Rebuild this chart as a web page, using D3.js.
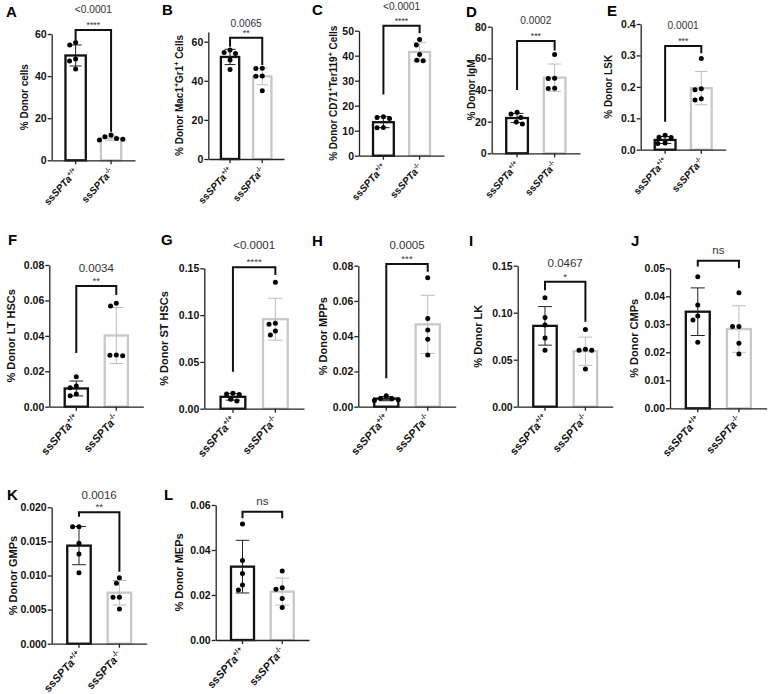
<!DOCTYPE html>
<html>
<head>
<meta charset="utf-8">
<script src="https://d3js.org/d3.v7.min.js"></script>
<style>
  body { margin: 0; background: #fff; }
  svg { font-family: "Liberation Sans", Arial, sans-serif; }
</style>
</head>
<body>
<svg width="768" height="694"></svg>
<script>
// ---- data ----
var genotypes = ["+/+", "-/-"];
var letters = ["A","B","C","D","E","F","G","H","I","J","K","L"];
var yLabels = ["% Donor cells", "% Donor Mac1^+Gr1^+ Cells", "% Donor CD71^+Ter119^+ Cells",
  "% Donor IgM", "% Donor LSK", "% Donor LT HSCs", "% Donor ST HSCs", "% Donor MPPs",
  "% Donor LK", "% Donor CMPs", "% Donor GMPs", "% Donor MEPs"];
var yMax = [60, 65, 50, 80, 0.4, 0.08, 0.15, 0.08, 0.15, 0.05, 0.02, 0.06];
var yTicks = [[0,20,40,60], [0,20,40,60], [0,10,20,30,40,50], [0,20,40,60,80],
  [0,0.1,0.2,0.3,0.4], [0,0.02,0.04,0.06,0.08], [0,0.05,0.10,0.15], [0,0.02,0.04,0.06,0.08],
  [0,0.05,0.10,0.15], [0,0.01,0.02,0.03,0.04,0.05], [0,0.005,0.010,0.015,0.020], [0,0.02,0.04,0.06]];
var tickFormats = ["d","d","d","d",".1f",".2f",".2f",".2f",".2f",".2f",".3f",".2f"];

var means = [[49.8,10.5],[52.2,42.3],[13.4,41.5],[22.3,47.8],[0.031,0.196],[0.0103,0.0402],
  [0.0127,0.0956],[0.0046,0.0467],[0.086,0.059],[0.0345,0.0283],[0.01438,0.00748],[0.0326,0.0215]];
var sds = [[5.0,1.0],[3.9,4.3],[2.2,3.7],[2.9,8.6],[0.011,0.053],[0.0042,0.0158],
  [0.0036,0.0224],[0.0012,0.0165],[0.0205,0.015],[0.0085,0.0083],[0.0028,0.0018],[0.0117,0.006]];
var points = [
  [[56.0,54.8,48.1,47.2,43.4],[11.2,9.6,10.4,12.0,10.0]],
  [[54.5,55.7,54.0,50.6,45.8],[46.4,46.3,42.5,42.3,34.9]],
  [[15.3,15.6,14.9,11.3,11.2],[46.5,44.3,40.5,38.2,38.0]],
  [[24.8,26.0,22.7,18.5,19.8],[62.5,47.4,47.2,41.1,41.0]],
  [[0.039,0.046,0.040,0.020,0.021],[0.290,0.191,0.194,0.158,0.162]],
  [[0.0169,0.0117,0.0107,0.0062,0.0072],[0.0568,0.0584,0.0292,0.0288,0.0290]],
  [[0.0157,0.0164,0.0153,0.0082,0.0100],[0.135,0.0901,0.0912,0.083,0.0787]],
  [[0.0040,0.0047,0.0062,0.0035,0.0045],[0.0732,0.0501,0.0435,0.0382,0.0293]],
  [[0.116,0.095,0.087,0.073,0.060],[0.082,0.061,0.060,0.060,0.040]],
  [[0.047,0.0369,0.0315,0.0236,0.033],[0.0413,0.0292,0.0292,0.0232,0.0194]],
  [[0.01716,0.01716,0.01472,0.01315,0.01042],[0.00968,0.00885,0.0068,0.0068,0.00509]],
  [[0.0516,0.0353,0.0296,0.0244,0.0222],[0.0307,0.0232,0.0226,0.0185,0.0144]]
];
var pTexts = ["<0.0001","0.0065","<0.0001","0.0002","0.0001","0.0034","<0.0001","0.0005","0.0467","ns","0.0016","ns"];
var stars = ["****","**","****","***","***","**","****","***","*","","**",""];
// bracket: [top, left leg end, right leg end] in data units
var brackets = [[61.9,57,13.6],[62.0,57.4,48.1],[52,24.5,49],[71,40,65],[0.33,0.089,0.307],
  [0.0682,0.0303,0.0631],[0.151,0.0395,0.1428],[0.081,0.0161,0.0766],[0.133,0.124,0.0904],
  [0.0527,0.0506,0.05],[0.01927,0.01862,0.01056],[0.057,0.0541,0.0541]];

// ---- layout (pixels) ----
var layout = [
  {ax:51.7,  y0:160.3, y1:34,    x1:135,   lx:6,   ly:17,  yl:28,  fs:10, pd:-16.7},
  {ax:208.3, y0:159,   y1:31.9,  x1:284,   lx:162, ly:15,  yl:183, fs:10, pd:-11},
  {ax:359,   y0:155.7, y1:30.7,  x1:444,   lx:312, ly:15,  yl:337, fs:10, pd:-15.7},
  {ax:491.7, y0:153.3, y1:26.7,  x1:580,   lx:466, ly:16.5,yl:475, fs:10, pd:-17},
  {ax:640.7, y0:149.7, y1:24,    x1:725.7, lx:607, ly:16,  yl:612, fs:10, pd:-16.7},
  {ax:49.3,  y0:406.7, y1:265,   x1:143.3, lx:8,   ly:245, yl:15,  fs:11, pd:-14.3},
  {ax:204.3, y0:408.7, y1:268.3, x1:304,   lx:161, ly:245, yl:168, fs:11, pd:-18.3},
  {ax:358.3, y0:406.7, y1:265.7, x1:455.7, lx:312, ly:246, yl:327, fs:11, pd:-15},
  {ax:517.7, y0:406.7, y1:265.7, x1:612.7, lx:469, ly:246, yl:482, fs:11, pd:-15},
  {ax:670,   y0:408.3, y1:268.3, x1:766.7, lx:631, ly:246, yl:638, fs:11, pd:-6.5},
  {ax:51.7,  y0:643.7, y1:507.3, x1:146.7, lx:7,   ly:500, yl:17,  fs:11, pd:-13.3},
  {ax:215.7, y0:640,   y1:505,   x1:309,   lx:164, ly:500, yl:183, fs:11, pd:-6.5}
];

var barStroke = ["#111", "#c8c8c8"];
var errStroke = ["#222", "#bdbdbd"];

var svg = d3.select("svg");

// simple beeswarm: offsets in px so dots don't overlap
function swarm(ys, d) {
  var idx = ys.map(function(y, i) { return i; }).sort(function(a, b) { return ys[a] - ys[b]; });
  var placed = [], out = new Array(ys.length);
  idx.forEach(function(i) {
    var y = ys[i], cands = [0];
    placed.forEach(function(p) {
      var dy = Math.abs(p.y - y);
      if (dy < d) { var w = Math.sqrt(d * d - dy * dy); cands.push(p.x - w, p.x + w); }
    });
    cands.sort(function(a, b) { return Math.abs(a) - Math.abs(b) || a - b; });
    var best = cands.find(function(c) {
      return placed.every(function(p) {
        var dy = p.y - y, dx = p.x - c;
        return dx * dx + dy * dy >= d * d - 0.01;
      });
    });
    placed.push({x: best, y: y});
    out[i] = best;
  });
  return out;
}

function addRich(sel, str, fs) {
  // "^x" marks a superscript character
  var parts = str.split(/(\^.)/);
  var shifted = false;
  parts.forEach(function(s) {
    if (!s) return;
    if (s[0] === "^") {
      sel.append("tspan").attr("font-size", fs * 0.7).attr("dy", -fs * 0.38).text(s[1]);
      shifted = true;
    } else {
      var t = sel.append("tspan").text(s);
      if (shifted) { t.attr("dy", fs * 0.38); shifted = false; }
    }
  });
}

letters.forEach(function(letter, i) {
  var L = layout[i];
  var g = svg.append("g");
  var y = d3.scaleLinear().domain([0, yMax[i]]).range([L.y0, L.y1]);
  var x = d3.scaleBand().domain([0, 1]).range([L.ax, L.x1]).paddingInner(0.37).paddingOuter(0.36);
  var bw = x.bandwidth();

  // panel letter
  g.append("text").attr("x", L.lx).attr("y", L.ly)
    .attr("font-size", 15).attr("font-weight", "bold").attr("fill", "#000").text(letter);

  // bars
  g.selectAll("rect.bar").data(means[i]).enter().append("rect")
    .attr("x", function(d, k) { return x(k) + 1; })
    .attr("width", bw - 2)
    .attr("y", function(d) { return y(d); })
    .attr("height", function(d) { return L.y0 - y(d); })
    .attr("fill", "#fff")
    .attr("stroke", function(d, k) { return barStroke[k]; })
    .attr("stroke-width", 2.3);

  // error bars (mean ± SD)
  means[i].forEach(function(m, k) {
    var cx = x(k) + bw / 2, cw = bw * 0.27;
    var eg = g.append("g").attr("stroke", errStroke[k]).attr("stroke-width", 1);
    eg.append("line").attr("x1", cx).attr("x2", cx).attr("y1", y(m - sds[i][k])).attr("y2", y(m + sds[i][k]));
    eg.append("line").attr("x1", cx - cw).attr("x2", cx + cw).attr("y1", y(m + sds[i][k])).attr("y2", y(m + sds[i][k]));
    eg.append("line").attr("x1", cx - cw).attr("x2", cx + cw).attr("y1", y(m - sds[i][k])).attr("y2", y(m - sds[i][k]));
  });

  // dots
  points[i].forEach(function(vals, k) {
    var cx = x(k) + bw / 2;
    var offs = swarm(vals.map(function(v) { return y(v); }), 6.4);
    g.selectAll(null).data(vals).enter().append("circle")
      .attr("cx", function(v, j) { return cx + offs[j]; })
      .attr("cy", function(v) { return y(v); })
      .attr("r", 2.5).attr("fill", "#000");
  });

  // axes
  var yAxis = d3.axisLeft(y).tickValues(yTicks[i]).tickSize(4).tickSizeOuter(0)
    .tickFormat(d3.format(tickFormats[i]));
  var ya = g.append("g").attr("transform", "translate(" + L.ax + ",0)").call(yAxis);
  ya.select(".domain").attr("stroke", "#222").attr("stroke-width", 1.3);
  ya.selectAll(".tick line").attr("stroke", "#222").attr("stroke-width", 1.3);
  ya.selectAll(".tick text").attr("font-size", 10.5).attr("font-weight", "bold")
    .attr("font-family", "Liberation Sans, Arial, sans-serif").attr("fill", "#111").attr("x", -5);

  var xAxis = d3.axisBottom(x).tickSize(4).tickSizeOuter(0).tickFormat("");
  var xa = g.append("g").attr("transform", "translate(0," + L.y0 + ")").call(xAxis);
  xa.select(".domain").attr("stroke", "#222").attr("stroke-width", 1.3);
  xa.selectAll(".tick line").attr("stroke", "#222").attr("stroke-width", 1.3);

  // rotated genotype labels
  genotypes.forEach(function(gt, k) {
    var cx = x(k) + bw / 2;
    var t = g.append("text")
      .attr("transform", "translate(" + (cx + 3) + "," + (L.y0 + 12) + ") rotate(-48)")
      .attr("text-anchor", "end").attr("font-size", L.fs).attr("font-weight", "bold").attr("fill", "#111");
    t.append("tspan").text("ss");
    t.append("tspan").attr("font-style", "italic").text("SPTa");
    t.append("tspan").attr("font-size", L.fs * 0.65).attr("dy", -L.fs * 0.4).text(gt);
  });

  // y label
  var yt = g.append("text")
    .attr("transform", "translate(" + L.yl + "," + ((L.y0 + L.y1) / 2) + ") rotate(-90)")
    .attr("text-anchor", "middle").attr("font-size", L.fs).attr("font-weight", "bold").attr("fill", "#111");
  addRich(yt, yLabels[i], L.fs);

  // significance bracket
  var b = brackets[i];
  var bx0 = x(0) + bw / 2, bx1 = x(1) + bw / 2, by = y(b[0]);
  g.append("path")
    .attr("d", "M" + bx0 + "," + y(b[1]) + "V" + by + "H" + bx1 + "V" + y(b[2]))
    .attr("fill", "none").attr("stroke", "#111").attr("stroke-width", 2);

  var pfs = L.fs === 10 ? 10.2 : 11.5;
  g.append("text").attr("x", (bx0 + bx1) / 2).attr("y", by + L.pd)
    .attr("text-anchor", "middle").attr("font-size", pfs).attr("fill", "#333").text(pTexts[i]);
  if (stars[i]) {
    g.append("text").attr("x", (bx0 + bx1) / 2).attr("y", by - 2)
      .attr("text-anchor", "middle").attr("font-size", pfs * 0.85).attr("fill", "#333").text(stars[i]);
  }
});
</script>
</body>
</html>
